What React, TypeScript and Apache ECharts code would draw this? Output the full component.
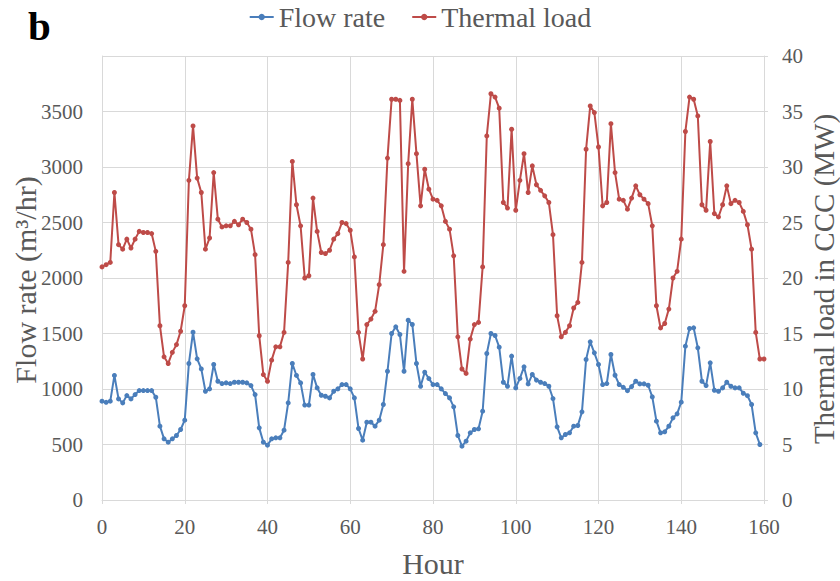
import React, { useEffect, useRef } from "react";
import * as echarts from "echarts";

// Hourly flow rate (m³/hr), hours 0..159
const flowRate = [
  890, 880, 890, 1122, 911, 875, 941, 911, 950, 986,
  986, 986, 986, 926, 665, 551, 521, 551, 581, 635,
  719, 1230, 1512, 1272, 1181, 980, 1001, 1221, 1070, 1049,
  1055, 1049, 1061, 1061, 1061, 1055, 1031, 950, 650, 521,
  494, 551, 560, 560, 629, 875, 1230, 1122, 1055, 855,
  855, 1131, 1010, 944, 935, 920, 980, 1001, 1040, 1040,
  1001, 920, 644, 539, 701, 701, 665, 719, 860, 1160,
  1500, 1560, 1491, 1160, 1620, 1581, 1230, 1025, 1151, 1094,
  1040, 1040, 1001, 959, 920, 839, 581, 485, 530, 605,
  635, 641, 800, 1320, 1500, 1482, 1377, 1061, 1025, 1296,
  1010, 1095, 1200, 1046, 1131, 1080, 1061, 1049, 1025, 914,
  659, 560, 590, 605, 665, 671, 794, 1266, 1425, 1326,
  1221, 1040, 1049, 1311, 1124, 1040, 1015, 985, 1022, 1070,
  1046, 1046, 1034, 929, 710, 605, 614, 665, 740, 776,
  881, 1386, 1545, 1551, 1371, 1070, 1031, 1236, 989, 980,
  1010, 1061, 1025, 1010, 1010, 962, 940, 860, 605, 500,
];

// Hourly thermal load in CCC (MW), hours 0..160
const thermalLoad = [
  21.0, 21.2, 21.4, 27.7, 23.0, 22.6, 23.5, 22.7, 23.5, 24.2,
  24.1, 24.1, 24.0, 22.4, 15.7, 12.9, 12.3, 13.3, 14.0, 15.2,
  17.5, 28.8, 33.7, 29.0, 27.7, 22.6, 23.6, 29.5, 25.3, 24.6,
  24.7, 24.7, 25.1, 24.8, 25.3, 25.0, 24.4, 22.1, 14.8, 11.3,
  10.7, 12.6, 13.8, 13.8, 15.1, 21.4, 30.5, 26.6, 24.7, 20.0,
  20.2, 27.2, 24.2, 22.3, 22.2, 22.5, 23.5, 24.0, 25.0, 24.9,
  24.3, 21.9, 15.1, 12.7, 15.8, 16.3, 17.0, 19.4, 23.0, 30.8,
  36.1, 36.1, 36.0, 20.6, 30.3, 36.1, 31.2, 26.5, 29.8, 28.0,
  27.1, 27.0, 26.5, 25.1, 24.4, 22.0, 14.7, 11.8, 11.4, 14.5,
  15.8, 16.0, 21.0, 32.8, 36.6, 36.3, 35.3, 26.8, 26.3, 33.4,
  26.1, 28.8, 31.2, 27.7, 30.1, 28.4, 27.9, 27.4, 26.8, 23.9,
  16.6, 14.7, 15.1, 15.7, 17.3, 17.8, 21.4, 31.6, 35.5, 34.9,
  31.8, 26.5, 26.8, 33.9, 29.5, 27.1, 27.0, 26.2, 27.2, 28.3,
  27.5, 27.1, 26.7, 24.7, 17.5, 15.5, 15.9, 17.2, 20.0, 20.6,
  23.5, 33.2, 36.3, 36.1, 34.6, 26.6, 26.1, 32.3, 25.8, 25.5,
  26.6, 28.3, 26.7, 27.0, 26.8, 26.0, 24.8, 22.6, 15.1, 12.7,
  12.7,
];

const seriesNames = ["Flow rate", "Thermal load"];
const xAxisTitle = "Hour";
const leftAxisTitle = "Flow rate (m³/hr)";
const rightAxisTitle = "Thermal load in CCC (MW)";
const panelLabel = "b";

const FONT = '"Liberation Serif", "Times New Roman", "DejaVu Serif", serif';
const GREY = "#595959";
const GRID = "#d9d9d9";
const BLUE = "#4A7EBB";
const RED = "#BE4B48";

const plain = (v: number) => String(v);

export default function App() {
  const ref = useRef<HTMLDivElement>(null);

  useEffect(() => {
    if (!ref.current) return;
    const chart = echarts.init(ref.current, undefined, { renderer: "svg" });
    const option = {
      animation: false,
      backgroundColor: "#ffffff",
      textStyle: { fontFamily: FONT },
      legend: {
        data: seriesNames,
        top: -2,
        left: "center",
        itemWidth: 24,
        itemHeight: 8,
        itemGap: 26,
        textStyle: { fontSize: 28, color: GREY, fontFamily: FONT },
      },
      grid: { left: 102, right: 76, top: 56, bottom: 81, containLabel: false },
      xAxis: {
        type: "value",
        min: 0,
        max: 160,
        interval: 20,
        axisLine: { show: true, lineStyle: { color: GRID, width: 1 } },
        axisTick: { show: true, length: 4, lineStyle: { color: GRID } },
        splitLine: { show: true, lineStyle: { color: GRID, width: 1 } },
        axisLabel: {
          fontSize: 21,
          color: GREY,
          margin: 16,
          fontFamily: FONT,
          formatter: plain,
        },
      },
      yAxis: [
        {
          type: "value",
          position: "left",
          min: 0,
          max: 4000,
          interval: 500,
          axisLine: { show: true, lineStyle: { color: GRID } },
          axisTick: { show: false },
          splitLine: { show: true, lineStyle: { color: GRID, width: 1 } },
          axisLabel: {
            fontSize: 21,
            color: GREY,
            margin: 19,
            fontFamily: FONT,
            showMaxLabel: false,
            formatter: plain,
          },
        },
        {
          type: "value",
          position: "right",
          min: 0,
          max: 40,
          interval: 5,
          axisLine: { show: true, lineStyle: { color: GRID } },
          axisTick: { show: true, length: 4, lineStyle: { color: GRID } },
          splitLine: { show: false },
          axisLabel: {
            fontSize: 21,
            color: GREY,
            margin: 18,
            fontFamily: FONT,
            formatter: plain,
          },
        },
      ],
      series: [
        {
          name: seriesNames[0],
          type: "line",
          yAxisIndex: 0,
          data: flowRate.map((v, i) => [i, v]),
          symbol: "circle",
          symbolSize: 5,
          showAllSymbol: true,
          lineStyle: { width: 2, color: BLUE },
          itemStyle: { color: BLUE },
          z: 3,
        },
        {
          name: seriesNames[1],
          type: "line",
          yAxisIndex: 1,
          data: thermalLoad.map((v, i) => [i, v]),
          symbol: "circle",
          symbolSize: 5,
          showAllSymbol: true,
          lineStyle: { width: 2, color: RED },
          itemStyle: { color: RED },
          z: 3,
        },
      ],
      graphic: [
        {
          type: "text",
          left: 28,
          top: 5,
          style: {
            text: panelLabel,
            font: `bold 41px ${FONT}`,
            fill: "#000000",
          },
        },
        {
          type: "text",
          x: 433,
          y: 563,
          style: {
            text: xAxisTitle,
            font: `30px ${FONT}`,
            fill: GREY,
            align: "center",
            verticalAlign: "middle",
          },
        },
        {
          type: "text",
          x: 25,
          y: 280,
          rotation: Math.PI / 2,
          style: {
            text: leftAxisTitle,
            font: `30px ${FONT}`,
            fill: GREY,
            align: "center",
            verticalAlign: "middle",
          },
        },
        {
          type: "text",
          x: 824,
          y: 279,
          rotation: Math.PI / 2,
          style: {
            text: rightAxisTitle,
            font: `29px ${FONT}`,
            fill: GREY,
            align: "center",
            verticalAlign: "middle",
          },
        },
      ],
    };
    chart.setOption(option);
    return () => chart.dispose();
  }, []);

  return (
    <div
      ref={ref}
      style={{ position: "fixed", left: 0, top: 0, width: 840, height: 581 }}
    />
  );
}
